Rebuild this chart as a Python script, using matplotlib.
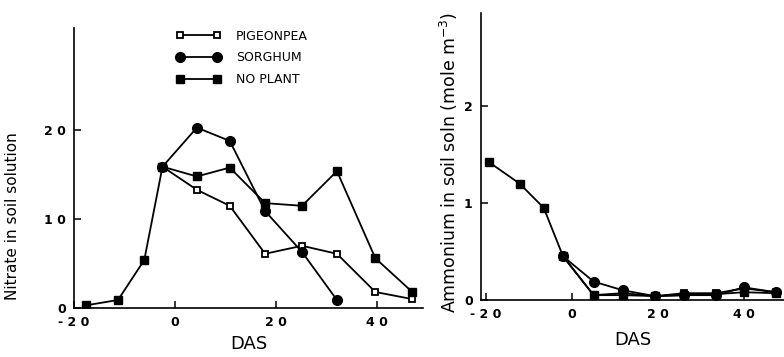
import matplotlib
matplotlib.use("Agg")
import matplotlib.pyplot as plt

plt.rcParams["font.family"] = ["DejaVu Sans"]

# Nitrate panel (left)
das_no3 = [-17.6, -11.3, -6.1, -2.5, 4.3, 10.8, 17.8, 25.1, 32.0, 39.6, 46.9]
no3_noplant = [0.3, 0.9, 5.4, 15.9, 14.8, 15.8, 11.8, 11.5, 15.4, 5.6, 1.8]
no3_sorghum = [15.9, 20.3, 18.8, 10.9, 6.3, 0.9]
no3_pigeonpea = [15.9, 13.3, 11.5, 6.1, 7.0, 6.1, 1.8, 1.0]

# Ammonium panel (right)
das_nh4 = [-19.3, -12.2, -6.6, -2.1, 5.0, 11.8, 19.3, 26.0, 33.5, 40.0, 47.4]
nh4_noplant = [1.42, 1.20, 0.95, 0.45, 0.05, 0.05, 0.04, 0.05, 0.06, 0.08, 0.07]
nh4_sorghum = [0.45, 0.19, 0.10, 0.04, 0.05, 0.05, 0.13, 0.08]
nh4_pigeonpea = [0.45, 0.05, 0.07, 0.04, 0.07, 0.07, 0.12, 0.08]

labels = ["PIGEONPEA", "SORGHUM", "NO PLANT"]
xticks = [-20, 0, 20, 40]

fig = plt.figure(figsize=(7.84, 3.57), dpi=100)
ax1 = fig.add_axes([0.0944, 0.1373, 0.445, 0.784])
ax2 = fig.add_axes([0.6135, 0.1597, 0.3865, 0.804])

lw = 1.3
ms = 6


def draw(ax, das, noplant, sorghum, pigeon):
    n_s = len(sorghum)
    n_p = len(pigeon)
    start = len(das) - n_p
    ax.plot(das[start:start + n_p], pigeon, color="black", lw=lw,
            marker="s", ms=ms - 1, mfc="white", mec="black", mew=1.3,
            label=labels[0], zorder=3)
    ax.plot(das[start:start + n_s], sorghum, color="black", lw=lw,
            marker="o", ms=ms + 1, mfc="black", mec="black",
            label=labels[1], zorder=3)
    ax.plot(das, noplant, color="black", lw=lw,
            marker="s", ms=ms, mfc="black", mec="black",
            label=labels[2], zorder=3)


draw(ax1, das_no3, no3_noplant, no3_sorghum, no3_pigeonpea)
draw(ax2, das_nh4, nh4_noplant, nh4_sorghum, nh4_pigeonpea)

ax1.set_xlim(-20, 49)
ax1.set_ylim(0, 31.5)
ax1.set_yticks([0, 10, 20])
ax1.set_yticklabels(["0", "1 0", "2 0"])

ax2.set_xlim(-21.2, 49.3)
ax2.set_ylim(0, 2.96)
ax2.set_yticks([0, 1, 2])
ax2.set_yticklabels(["0", "1", "2"])

for ax in (ax1, ax2):
    ax.set_xticks(xticks)
    ax.set_xticklabels(["- 2 0", "0", "2 0", "4 0"])
    ax.spines["top"].set_visible(False)
    ax.spines["right"].set_visible(False)
    ax.spines["left"].set_linewidth(1.2)
    ax.spines["bottom"].set_linewidth(1.2)
    ax.tick_params(direction="in", length=5, width=1.1, labelsize=9, pad=6)
    for t in ax.get_xticklabels() + ax.get_yticklabels():
        t.set_fontweight("bold")

ax1.set_xlabel("DAS", fontsize=13, labelpad=4)
ax2.set_xlabel("DAS", fontsize=13, labelpad=7)

ax1.legend(loc="upper left", bbox_to_anchor=(0.26, 1.035), frameon=False,
           numpoints=2, handlelength=3.6, labelspacing=0.7, fontsize=9,
           handletextpad=1.2)

fig.text(0.016, 0.16, "Nitrate in soil solution", rotation=90,
         ha="center", va="bottom", fontsize=11)
fig.text(0.573, 0.123, "Ammonium in soil soln (mole m$^{-3}$)", rotation=90,
         ha="center", va="bottom", fontsize=12.5)

fig.savefig("out.png", dpi=100)
